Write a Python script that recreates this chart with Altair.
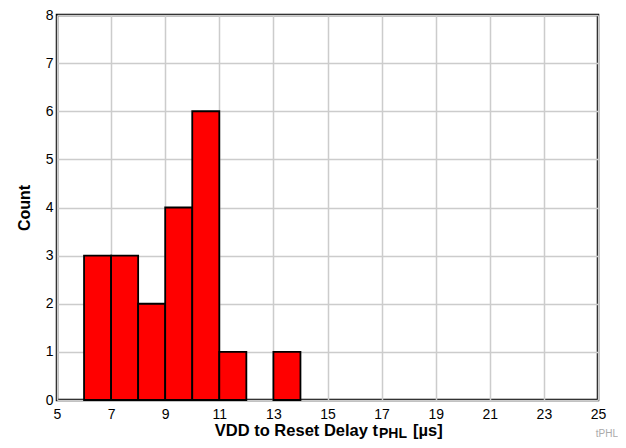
import altair as alt
import pandas as pd

bin_start = [6, 7, 8, 9, 10, 11, 12, 13]
bin_end = [7, 8, 9, 10, 11, 12, 13, 14]
counts = [3, 3, 2, 4, 6, 1, 0, 1]
x_ticks = [5, 7, 9, 11, 13, 15, 17, 19, 21, 23, 25]
y_ticks = [0, 1, 2, 3, 4, 5, 6, 7, 8]

df = pd.DataFrame({"start": bin_start, "end": bin_end, "count": counts})
df = df[df["count"] > 0]

FONT = "Liberation Sans"
W, H = 541, 385

bars = alt.Chart(df).mark_bar(
    color="#ff0000", stroke="black", strokeWidth=1.8
).encode(
    x=alt.X("start:Q", scale=alt.Scale(domain=[5, 25], nice=False),
            axis=alt.Axis(values=x_ticks, title=None, labelFontSize=14,
                          labelFont=FONT, labelColor="black", labelPadding=7,
                          grid=True, gridColor="#cccccc", gridWidth=1.5,
                          ticks=False, domain=False, labelFlush=False)),
    x2="end:Q",
    y=alt.Y("count:Q", scale=alt.Scale(domain=[0, 8], nice=False),
            axis=alt.Axis(values=y_ticks, title="Count", titleFontSize=16,
                          titleFont=FONT, titleFontWeight="bold", titleColor="black",
                          titlePadding=13, labelFontSize=14, labelFont=FONT,
                          labelColor="black", labelPadding=4,
                          grid=True, gridColor="#cccccc", gridWidth=1.5,
                          ticks=False, domain=False)),
    y2=alt.datum(0),
)

title_df = pd.DataFrame({"t": [""]})
t_main = alt.Chart(title_df).mark_text(
    text="VDD to Reset Delay t", font=FONT, fontSize=16.5, fontWeight="bold",
    align="right", baseline="alphabetic", color="black"
).encode(x=alt.value(321), y=alt.value(421))
t_sub = alt.Chart(title_df).mark_text(
    text="PHL", font=FONT, fontSize=14, fontWeight="bold",
    align="left", baseline="alphabetic", color="black"
).encode(x=alt.value(322), y=alt.value(423))
t_unit = alt.Chart(title_df).mark_text(
    text="[µs]", font=FONT, fontSize=16.5, fontWeight="bold",
    align="left", baseline="alphabetic", color="black"
).encode(x=alt.value(356), y=alt.value(421))
t_corner = alt.Chart(title_df).mark_text(
    text="tPHL", font=FONT, fontSize=10, align="right",
    baseline="alphabetic", color="#aaaaaa"
).encode(x=alt.value(561), y=alt.value(422))

chart = alt.layer(bars, t_main, t_sub, t_unit, t_corner).properties(
    width=W, height=H,
    autosize=alt.AutoSizeParams(type="none"),
    padding={"left": 49, "top": 7, "right": 20, "bottom": 40},
).configure_view(stroke="black", strokeWidth=2.5)

chart.save("out.html", embed_options={"renderer": "svg", "actions": False})
